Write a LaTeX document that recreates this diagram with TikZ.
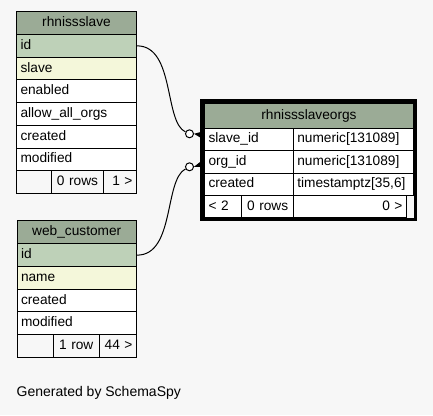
\documentclass[tikz,border=0pt]{standalone}
\usepackage{fontspec}
\setmainfont{Liberation Sans}
\definecolor{bg}{HTML}{F7F7F7}
\definecolor{hdr}{HTML}{9BAB96}
\definecolor{pk}{HTML}{BED1B8}
\definecolor{idx}{HTML}{F4F7DA}
\tikzset{
  cell/.style={draw=black, line width=1pt, rectangle, anchor=north west,
    inner xsep=4pt, inner ysep=0pt, font=\fontsize{13.7}{16}\selectfont,
    text height=10pt, text depth=3pt},
  conn/.style={draw=black, line width=1pt},
  odot/.style={circle, draw=black, fill=white, line width=1pt, minimum size=8pt, inner sep=0pt},
  outer/.style={draw=black, line width=3.3pt}
}
\begin{document}
\begin{tikzpicture}[x=1pt,y=-1pt]
\fill[bg] (0,0) rectangle (433,415);
\useasboundingbox (0,0) rectangle (433,415);

% rhnissslave
\node[cell, fill=hdr, text width=112pt, minimum height=23.3pt, align=center] (s-h) at (16,10.7) {rhnissslave};
\node[cell, fill=pk, text width=112pt, minimum height=22.7pt, align=left] (s-id) at (16,34) {id};
\node[cell, fill=idx, text width=112pt, minimum height=22.7pt, align=left] (s-slave) at (16,56.7) {slave};
\node[cell, fill=white, text width=112pt, minimum height=22.7pt, align=left] (s-en) at (16,79.4) {enabled};
\node[cell, fill=white, text width=112pt, minimum height=22.7pt, align=left] (s-all) at (16,102.1) {allow\_all\_orgs};
\node[cell, fill=white, text width=112pt, minimum height=22.7pt, align=left] (s-cr) at (16,124.8) {created};
\node[cell, fill=white, text width=112pt, minimum height=22.7pt, align=left] (s-mod) at (16,147.5) {modified};
\node[cell, fill=bg, text width=27pt, minimum height=22.7pt, align=left] (s-f1) at (16,170.2) {};
\node[cell, fill=bg, text width=44pt, minimum height=22.7pt, align=center] (s-f2) at (51,170.2) {0 rows};
\node[cell, fill=bg, text width=25pt, minimum height=22.7pt, align=right] (s-f3) at (103,170.2) {1 >};

% web_customer
\node[cell, fill=hdr, text width=111.5pt, minimum height=23.3pt, align=center] (w-h) at (16.5,220) {web\_customer};
\node[cell, fill=pk, text width=111.5pt, minimum height=22.7pt, align=left] (w-id) at (16.5,243.3) {id};
\node[cell, fill=idx, text width=111.5pt, minimum height=22.7pt, align=left] (w-name) at (16.5,266) {name};
\node[cell, fill=white, text width=111.5pt, minimum height=22.7pt, align=left] (w-cr) at (16.5,288.7) {created};
\node[cell, fill=white, text width=111.5pt, minimum height=22.7pt, align=left] (w-mod) at (16.5,311.4) {modified};
\node[cell, fill=bg, text width=28.2pt, minimum height=22.7pt, align=left] (w-f1) at (16.5,334.1) {};
\node[cell, fill=bg, text width=38pt, minimum height=22.7pt, align=center] (w-f2) at (52.7,334.1) {1 row};
\node[cell, fill=bg, text width=29.3pt, minimum height=22.7pt, align=right] (w-f3) at (98.7,334.1) {44 >};

% rhnissslaveorgs
\node[cell, fill=hdr, text width=201pt, minimum height=24.7pt, align=center] (o-h) at (204,103) {rhnissslaveorgs};
\node[cell, fill=white, text width=81.3pt, minimum height=22.4pt, align=left] (o-sid) at (204,127.7) {slave\_id};
\node[cell, fill=white, text width=112.2pt, minimum height=22.4pt, align=left, inner xsep=3.5pt] (o-sidt) at (293.3,127.7) {numeric[131089]};
\node[cell, fill=white, text width=81.3pt, minimum height=22.4pt, align=left] (o-oid) at (204,150.1) {org\_id};
\node[cell, fill=white, text width=112.2pt, minimum height=22.4pt, align=left, inner xsep=3.5pt] (o-oidt) at (293.3,150.1) {numeric[131089]};
\node[cell, fill=white, text width=81.3pt, minimum height=22.4pt, align=left] (o-cr) at (204,172.5) {created};
\node[cell, fill=white, text width=112.2pt, minimum height=22.4pt, align=left, inner xsep=3.5pt] (o-crt) at (293.3,172.5) {timestamptz[35,6]};
\node[cell, fill=white, text width=29pt, minimum height=22.4pt, align=left] (o-f1) at (204,194.9) {< 2};
\node[cell, fill=white, text width=44.3pt, minimum height=22.4pt, align=center] (o-f2) at (241,194.9) {0 rows};
\node[cell, fill=white, text width=104.7pt, minimum height=22.4pt, align=right] (o-f3) at (293.3,194.9) {0 >};
\draw[outer] (202,101) rectangle (415.3,219.2);

% connectors
\node[odot] (c1) at (189.5,133.8) {};
\node[odot] (c2) at (189.5,166.8) {};
\draw[conn] (s-id.east) .. controls +(38,0) and (164,122) .. (c1);
\draw[conn] (w-id.east) .. controls +(38,0) and (164,180) .. (c2);
\fill[black] (c1.east) -- (204.5,131) -- (204.5,140) -- cycle;
\fill[black] (c2.east) -- (204.5,158.5) -- (204.5,166.8) -- cycle;

\node[anchor=base west, inner sep=0pt, font=\fontsize{14}{17}\selectfont] (gen) at (16.5,396.5) {Generated by SchemaSpy};
\end{tikzpicture}
\end{document}
